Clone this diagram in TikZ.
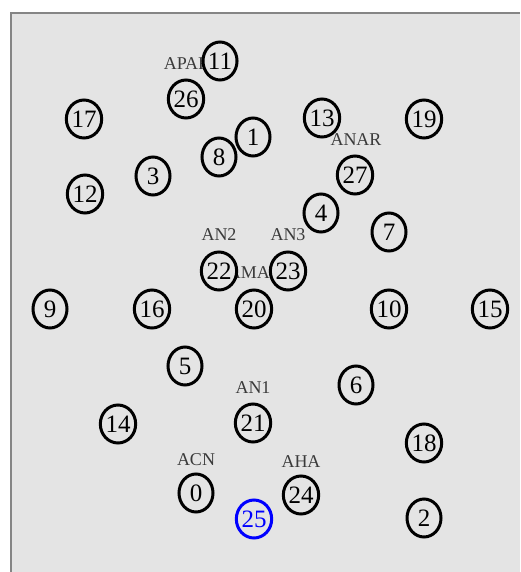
\documentclass[tikz,border=0pt]{standalone}
\usepackage{fontspec}
\setmainfont{Liberation Serif}
\usetikzlibrary{shapes.geometric}
\definecolor{bgc}{HTML}{E4E4E4}
\definecolor{framec}{HTML}{858585}
\definecolor{labc}{HTML}{3A3A3A}
\tikzset{
  vtx/.style={ellipse, draw=black, line width=3pt, fill=bgc, minimum width=34pt, minimum height=38pt, inner sep=0pt, font=\fontsize{25}{25}\selectfont},
  hl/.style={vtx, draw=blue, text=blue},
  lab/.style={anchor=base, text=labc, inner sep=0pt, font=\fontsize{18}{18}\selectfont}
}
\begin{document}
\begin{tikzpicture}[x=1pt,y=-1pt]
\useasboundingbox (0,0) rectangle (520,572);
\fill[white] (0,0) rectangle (520,572);
\fill[bgc] (11,13) rectangle (520,572);
\draw[framec, line width=2.5pt] (11,572) -- (11,13) -- (520,13);
% labels
\node[lab] (lAPAR) at (187,70) {APAR};
\node[lab] (lANAR) at (356,146) {ANAR};
\node[lab] (lAN2) at (219,240) {AN2};
\node[lab] (lAN3) at (288,240) {AN3};
\node[lab] (lAMAP) at (254,278) {AMAP};
\node[lab] (lAN1) at (253,393) {AN1};
\node[lab] (lACN) at (196,465) {ACN};
\node[lab] (lAHA) at (301,467) {AHA};
% vertices
\node[vtx] (n11) at (220,61) {11};
\node[vtx] (n26) at (186,99) {26};
\node[vtx] (n17) at (84,119) {17};
\node[vtx] (n1) at (253,137) {1};
\node[vtx] (n8) at (219,157) {8};
\node[vtx] (n3) at (153,176) {3};
\node[vtx] (n12) at (85,194) {12};
\node[vtx] (n13) at (322,118) {13};
\node[vtx] (n19) at (424,119) {19};
\node[vtx] (n27) at (355,175) {27};
\node[vtx] (n4) at (321,213) {4};
\node[vtx] (n7) at (389,232) {7};
\node[vtx] (n22) at (219,271) {22};
\node[vtx] (n23) at (288,271) {23};
\node[vtx] (n9) at (50,309) {9};
\node[vtx] (n16) at (152,309) {16};
\node[vtx] (n20) at (254,309) {20};
\node[vtx] (n10) at (389,309) {10};
\node[vtx] (n15) at (490,309) {15};
\node[vtx] (n5) at (185,366) {5};
\node[vtx] (n6) at (356,385) {6};
\node[vtx] (n14) at (118,424) {14};
\node[vtx] (n21) at (253,423) {21};
\node[vtx] (n18) at (424,443) {18};
\node[vtx] (n0) at (196,493) {0};
\node[vtx] (n24) at (301,495) {24};
\node[hl] (n25) at (254,519) {25};
\node[vtx] (n2) at (424,518) {2};
\end{tikzpicture}
\end{document}
